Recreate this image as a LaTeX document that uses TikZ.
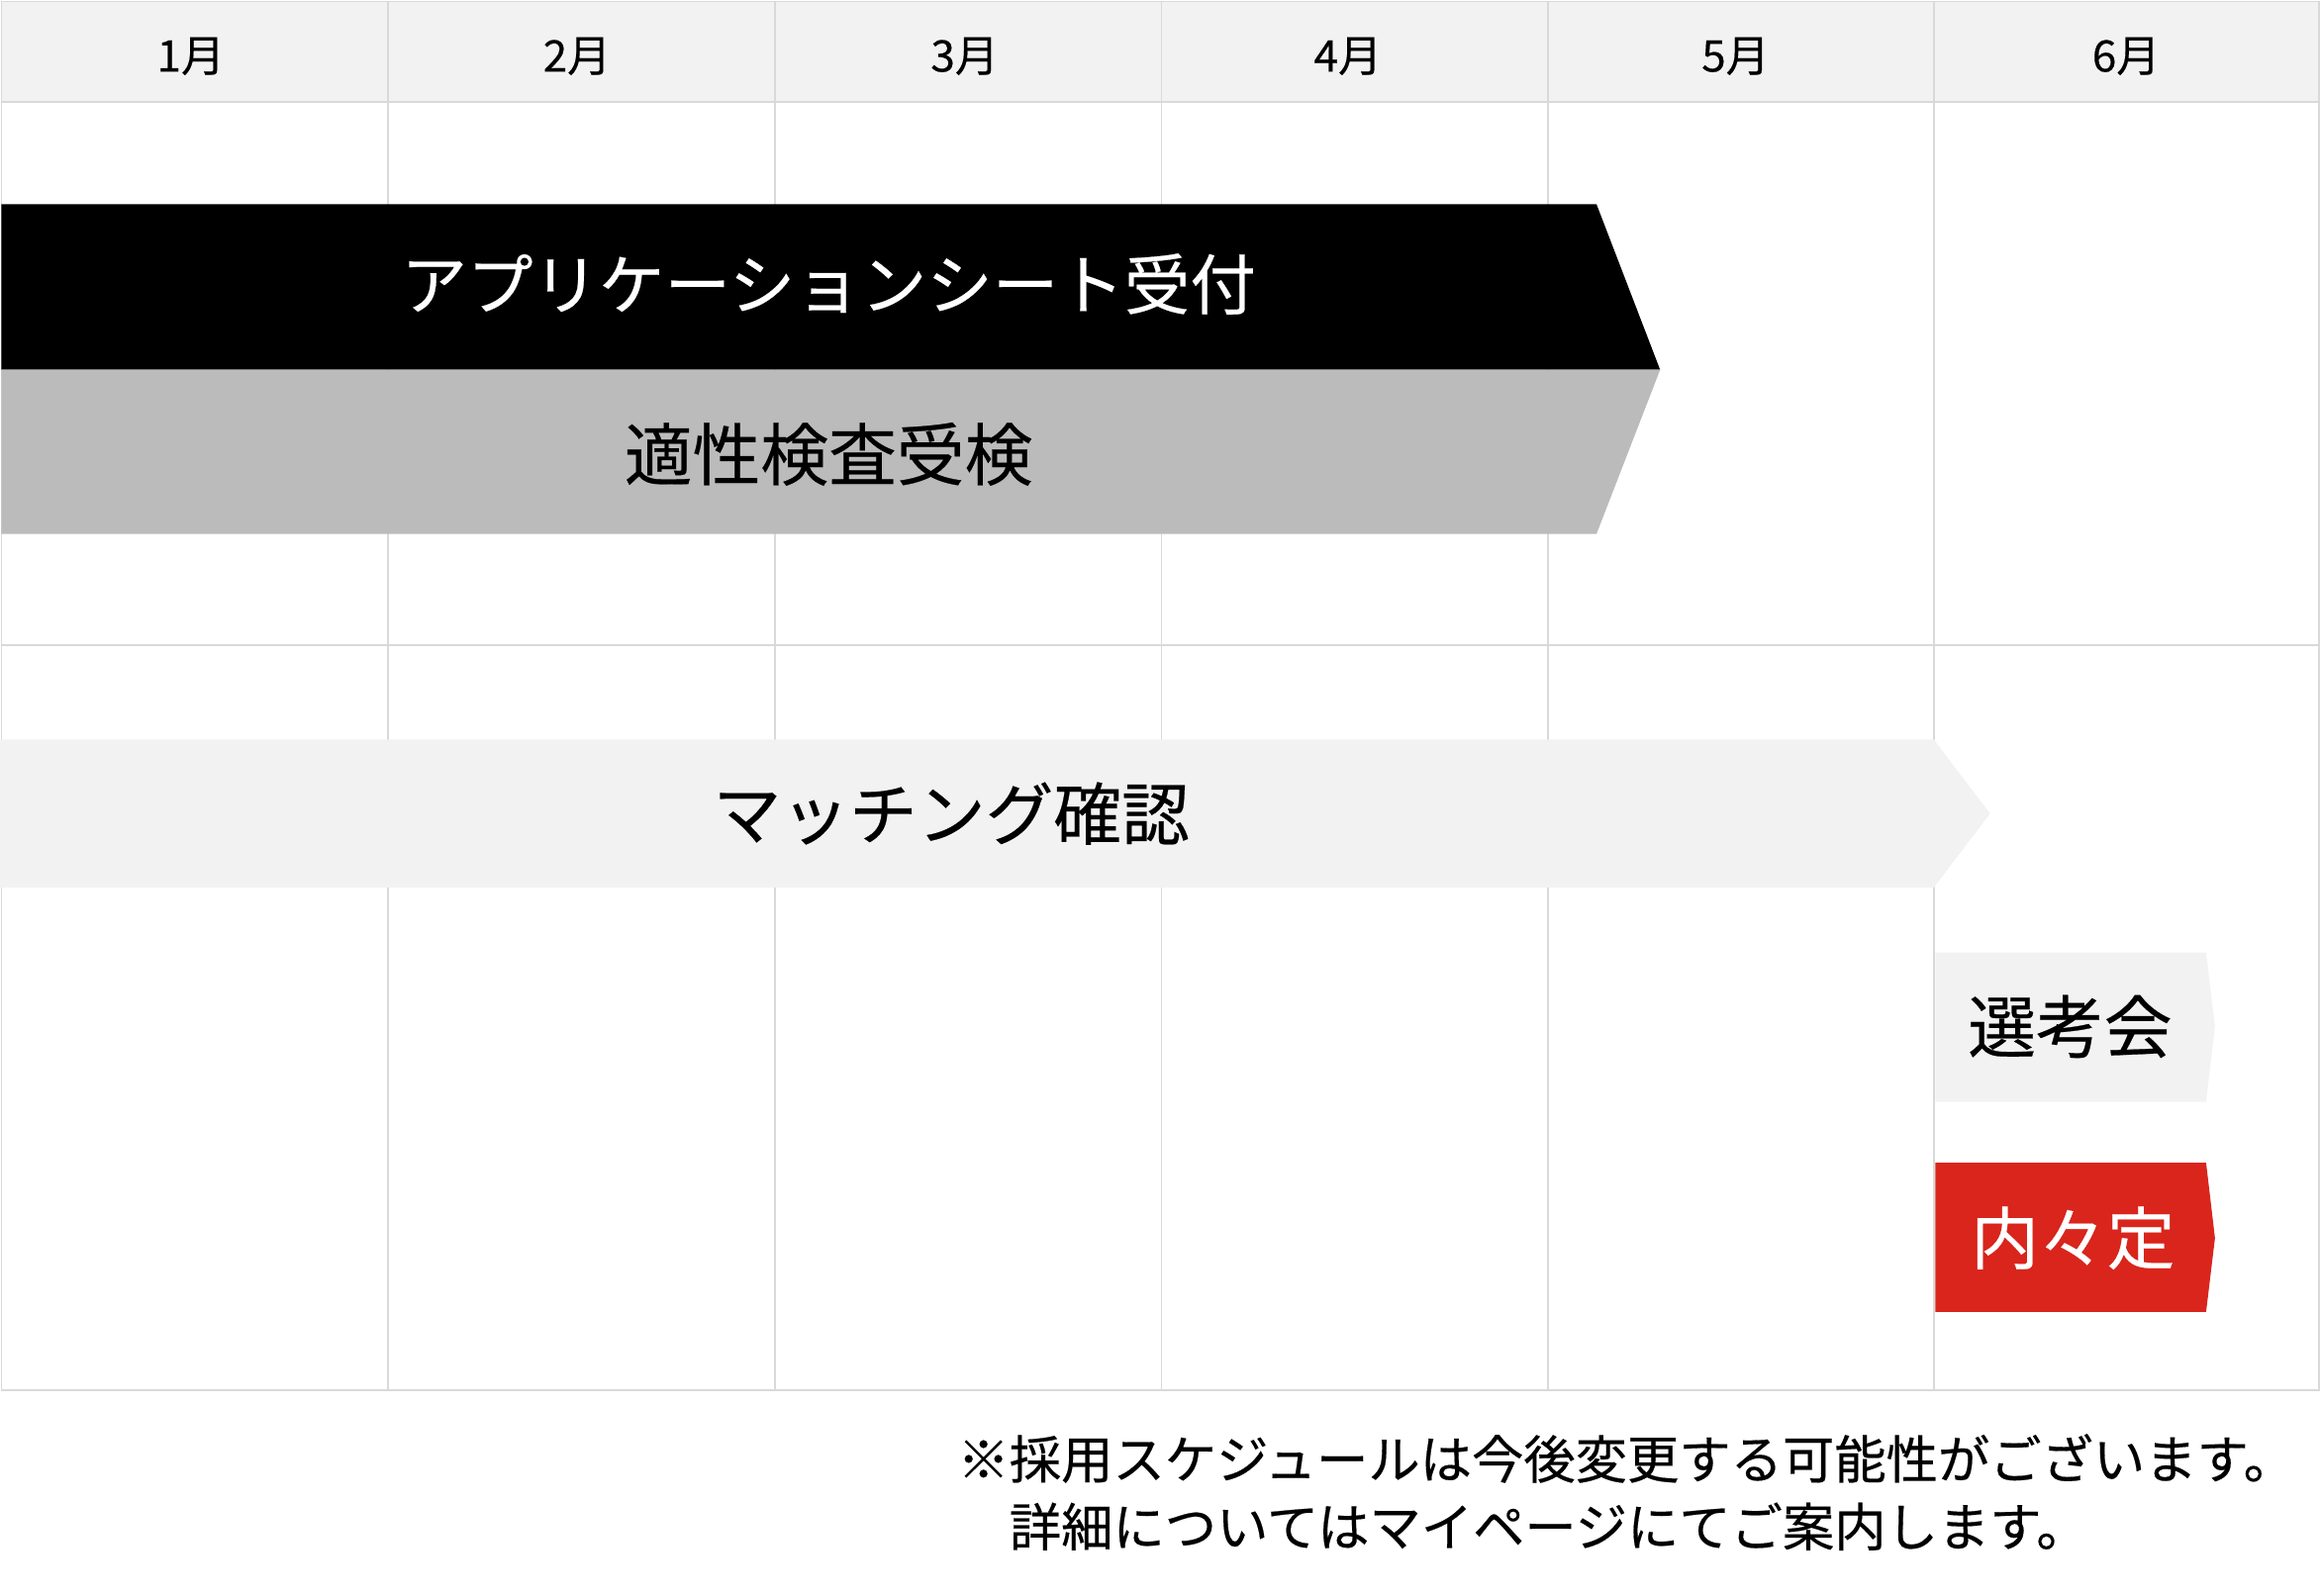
\documentclass[tikz,border=0pt]{standalone}
\usepackage{fontspec}
\setmainfont{Noto Sans CJK JP}
\newfontfamily\medjp[FakeBold=0.35]{Noto Sans CJK JP}
\usepackage{xcolor}
\usepackage{tikz}
\usetikzlibrary{positioning, calc}

\definecolor{gridline}{HTML}{D9D9D9}
\definecolor{headfill}{HTML}{F2F2F2}
\definecolor{examgray}{HTML}{BBBBBB}
\definecolor{offerred}{HTML}{D9251C}

\begin{document}
\begin{tikzpicture}[x=1pt, y=-1pt]
		\tikzstyle{gridrule}=[draw=gridline, line width=1.3pt]
		\tikzstyle{monthlabel}=[font=\medjp\fontsize{29.5}{34}\selectfont, text=black, inner sep=0pt]
		\tikzstyle{barlabel}=[font=\medjp\fontsize{46}{55}\selectfont, inner sep=0pt]
		\tikzstyle{notetext}=[font=\medjp\fontsize{35}{46}\selectfont, inner sep=0pt]
		
		\useasboundingbox (0,0) rectangle (1568,1079);
		
		% header row and grid
		\fill [headfill] (1,1) rectangle (1567,69);
		\foreach \xc in {262,524,785,1046,1307}
			\draw [gridrule] (\xc,1) -- (\xc,940);
		\draw [gridrule] (1,69) -- (1567,69);
		\draw [gridrule] (1,436) -- (1567,436);
		\draw [gridrule] (1,1) rectangle (1567,940);
		
		\foreach \m/\xc in {1/129,2/390,3/652,4/911,5/1173,6/1437}
			\node (month\m) at (\xc,38) [monthlabel] {\m 月};
		
		% bars
		\fill [black] (1,138) -- (1079,138) -- (1122,250) -- (1,250) -- cycle;
		\fill [examgray] (1,250) -- (1122,250) -- (1079,361) -- (1,361) -- cycle;
		\fill [headfill] (0,500) -- (1307,500) -- (1345,550) -- (1307,600) -- (0,600) -- cycle;
		\fill [headfill] (1308,644) -- (1491,644) -- (1497,694) -- (1491,745) -- (1308,745) -- cycle;
		\fill [offerred] (1308,786) -- (1491,786) -- (1497,837) -- (1491,887) -- (1308,887) -- cycle;
		
		\node (apply) at (560,192) [barlabel, text=white, font=\medjp\fontsize{44.5}{54}\selectfont] {アプリケーションシート受付};
		\node (aptitude) at (560,307) [barlabel] {適性検査受検};
		\node (matching) at (643,550) [barlabel] {マッチング確認};
		\node (selection) at (1399,694) [barlabel] {選考会};
		\node (offer) at (1401,837) [barlabel, text=white] {内々定};
		
		% footnote
		\node (note1) at (647,986) [notetext, anchor=west] {※採用スケジュールは今後変更する可能性がございます。};
		\node (note2) [notetext, below right=46pt and 35pt of note1.west, anchor=west] {詳細についてはマイページにてご案内します。};
\end{tikzpicture}
\end{document}
